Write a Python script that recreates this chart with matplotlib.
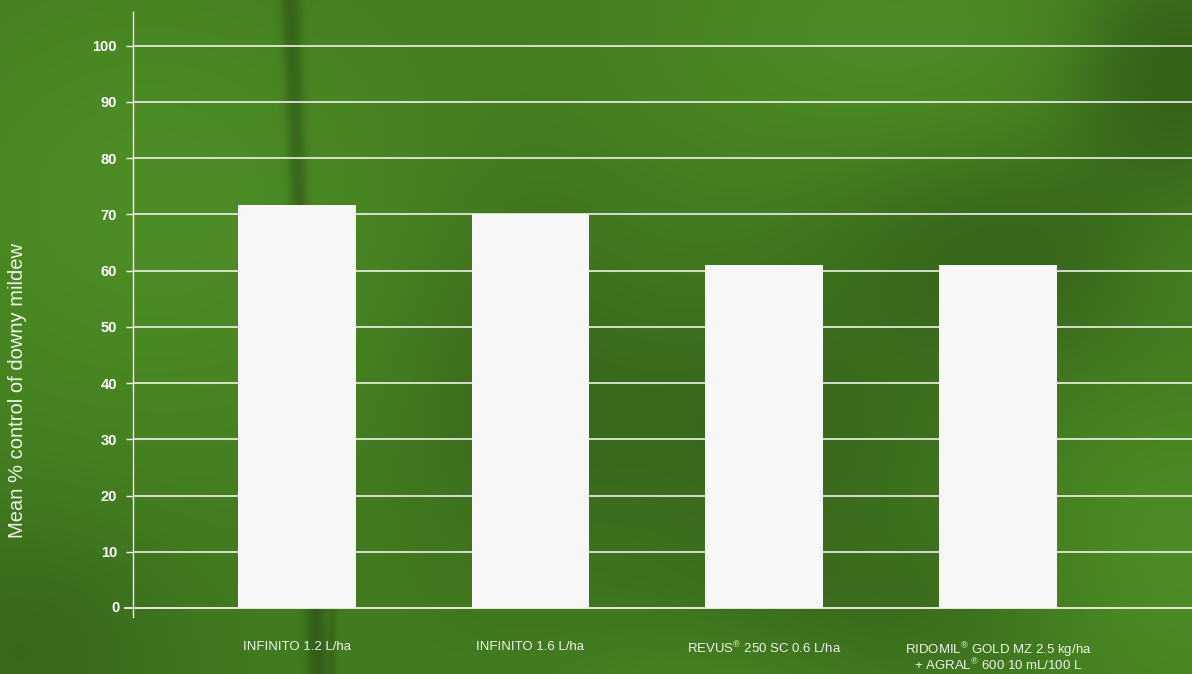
import numpy as np
import matplotlib.pyplot as plt
from matplotlib.colors import LinearSegmentedColormap

plt.rcParams['font.family'] = ['Liberation Sans', 'DejaVu Sans']
plt.rcParams['mathtext.fontset'] = 'custom'
plt.rcParams['mathtext.rm'] = 'Liberation Sans'
plt.rcParams['mathtext.it'] = 'Liberation Sans'

# data
treatments = [
    "INFINITO 1.2 L/ha",
    "INFINITO 1.6 L/ha",
    "REVUS$^{®}$ 250 SC 0.6 L/ha",
    "RIDOMIL$^{®}$ GOLD MZ 2.5 kg/ha\n+ AGRAL$^{®}$ 600 10 mL/100 L",
]
control = [71.7, 70.0, 61.0, 61.0]
y_ticks = [0, 10, 20, 30, 40, 50, 60, 70, 80, 90, 100]
y_label = "Mean % control of downy mildew"

W, H = 1192, 674
fig = plt.figure(figsize=(W / 100, H / 100), dpi=100)

# leafy green background (decorative only)
bg = fig.add_axes([0, 0, 1, 1], zorder=0)
xx, yy = np.meshgrid(np.arange(W), np.arange(H))

def blob(cx, cy, sx, sy):
    return np.exp(-(((xx - cx) / sx) ** 2 + ((yy - cy) / sy) ** 2))

v = np.full((H, W), 0.55)
v += 0.30 * blob(150, 200, 260, 220)
v += 0.28 * blob(900, 30, 260, 150)
v += 0.30 * blob(1180, 560, 150, 160)
v += 0.15 * blob(720, 690, 160, 80)
v += 0.10 * blob(1180, 260, 80, 80)
v -= 0.45 * blob(1170, 70, 100, 110)
v -= 0.30 * blob(1000, 250, 170, 110)
v -= 0.25 * blob(760, 430, 200, 130)
v -= 0.25 * blob(20, 650, 160, 130)
v -= 0.18 * blob(520, 380, 120, 200)
v -= 0.18 * blob(860, 610, 220, 90)
# leaf vein stripe
xc = 290 + 28 * (yy / H)
v -= 0.45 * np.exp(-((xx - xc) / 10) ** 2)
v -= 0.20 * np.exp(-((xx - 332) / 4) ** 2) * (yy > 300)
v = np.clip(v, 0, 1)

cmap = LinearSegmentedColormap.from_list(
    "leaf", ["#2f5a16", "#3a6b1c", "#478421", "#53932a"])
bg.imshow(v, cmap=cmap, vmin=0, vmax=1, aspect="auto", interpolation="bilinear")
bg.set_axis_off()

ax = fig.add_axes([133 / W, 57 / H, 1 - 133 / W, 605 / H], zorder=1)
ax.patch.set_alpha(0)

x = np.arange(len(treatments))
ax.bar(x, control, width=0.504, color="#f7f7f7", zorder=3)

ax.set_xlim(-0.7, 3.83)
ax.set_ylim(-1.6, 106)

ax.set_yticks(y_ticks[1:])
ax.yaxis.grid(True, color="#eef0ea", linewidth=1.2)
ax.set_axisbelow(True)
# zero line with slightly longer tick
ax.plot([-8 / 1059, 1], [0, 0], transform=ax.get_yaxis_transform(),
        color="#e4e8df", linewidth=1.4, clip_on=False, zorder=2)
ax.text(-13 / 1059, 0, "0", transform=ax.get_yaxis_transform(),
        ha="right", va="center", color="white", fontsize=10.5, fontweight="bold")

ax.tick_params(axis="y", colors="white", length=5, width=1, pad=6.5,
               labelsize=10.5)
for lab in ax.get_yticklabels():
    lab.set_fontweight("bold")

ax.set_xticks(x)
ax.set_xticklabels(treatments, fontsize=9.5, color="#eef2ea", linespacing=0.88)
ax.tick_params(axis="x", length=0, pad=17)

for side in ["top", "right", "bottom"]:
    ax.spines[side].set_visible(False)
ax.spines["left"].set_color("#f2f4ee")
ax.spines["left"].set_linewidth(1)

fig.text(18 / W, 1 - 390 / H, y_label, rotation=90, ha="center", va="center",
         color="#f0f4ec", fontsize=14.5)

fig.savefig("out.png", dpi=100)
